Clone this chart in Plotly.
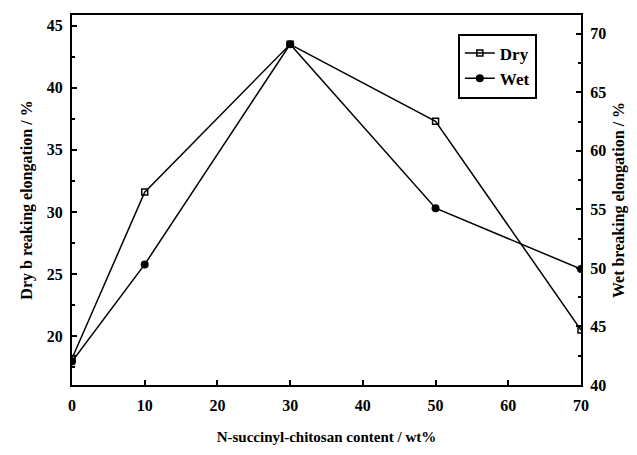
import plotly.graph_objects as go

content = [0, 10, 30, 50, 70]
dry = [18.2, 31.6, 43.5, 37.3, 20.5]
wet = [42.0, 50.3, 69.1, 55.1, 49.9]
x_ticks = [0, 10, 20, 30, 40, 50, 60, 70]
left_ticks = [20, 25, 30, 35, 40, 45]
right_ticks = [40, 45, 50, 55, 60, 65, 70]

FONT = "Liberation Serif"

fig = go.Figure()
fig.add_trace(go.Scatter(
    x=content, y=dry, name="Dry", mode="lines+markers",
    line=dict(color="black", width=1.5),
    marker=dict(symbol="square-open", size=6, color="black", line=dict(width=1.5)),
    yaxis="y",
))
fig.add_trace(go.Scatter(
    x=content, y=wet, name="Wet", mode="lines+markers",
    line=dict(color="black", width=1.5),
    marker=dict(symbol="circle", size=8, color="black"),
    yaxis="y2",
))

axis_common = dict(
    showline=True, linecolor="black", linewidth=2,
    ticks="inside", ticklen=5, tickwidth=1.5, tickcolor="black",
    showgrid=False, zeroline=False,
    tickfont=dict(family=FONT, size=16, color="black", weight="bold"),
)

fig.update_layout(
    width=637, height=455,
    margin=dict(l=72, r=53, t=15, b=61),
    paper_bgcolor="white", plot_bgcolor="white",
    font=dict(family=FONT, color="black", weight="bold"),
    showlegend=True,
    legend=dict(
        x=0.758, y=0.95, xanchor="left", yanchor="top",
        bordercolor="black", borderwidth=2, bgcolor="white",
        font=dict(family=FONT, size=17, color="black", weight="bold"),
        tracegroupgap=0, itemwidth=30,
    ),
    xaxis=dict(
        range=[0, 70], tickvals=x_ticks, mirror=True,
        title=dict(text="N-succinyl-chitosan content / wt%",
                   font=dict(family=FONT, size=15, color="black", weight="bold"),
                   standoff=18),
        ticklabelstandoff=5,
        **axis_common,
    ),
    yaxis=dict(
        range=[16.07, 45.86], tickvals=left_ticks,
        minor=dict(ticks="inside", ticklen=3, tickwidth=1.5, tickcolor="black", dtick=2.5, tick0=0),
        title=dict(text="Dry b reaking elongation / %",
                   font=dict(family=FONT, size=16, color="black", weight="bold"),
                   standoff=10),
        ticklabelstandoff=4,
        **axis_common,
    ),
    yaxis2=dict(
        range=[40.0, 71.6], tickvals=right_ticks, overlaying="y", side="right",
        minor=dict(ticks="inside", ticklen=3, tickwidth=1.5, tickcolor="black", dtick=2.5, tick0=0),
        title=dict(text="Wet breaking elongation / %",
                   font=dict(family=FONT, size=16, color="black", weight="bold"),
                   standoff=8),
        ticklabelstandoff=4,
        **axis_common,
    ),
)

fig.write_html("out.html")
